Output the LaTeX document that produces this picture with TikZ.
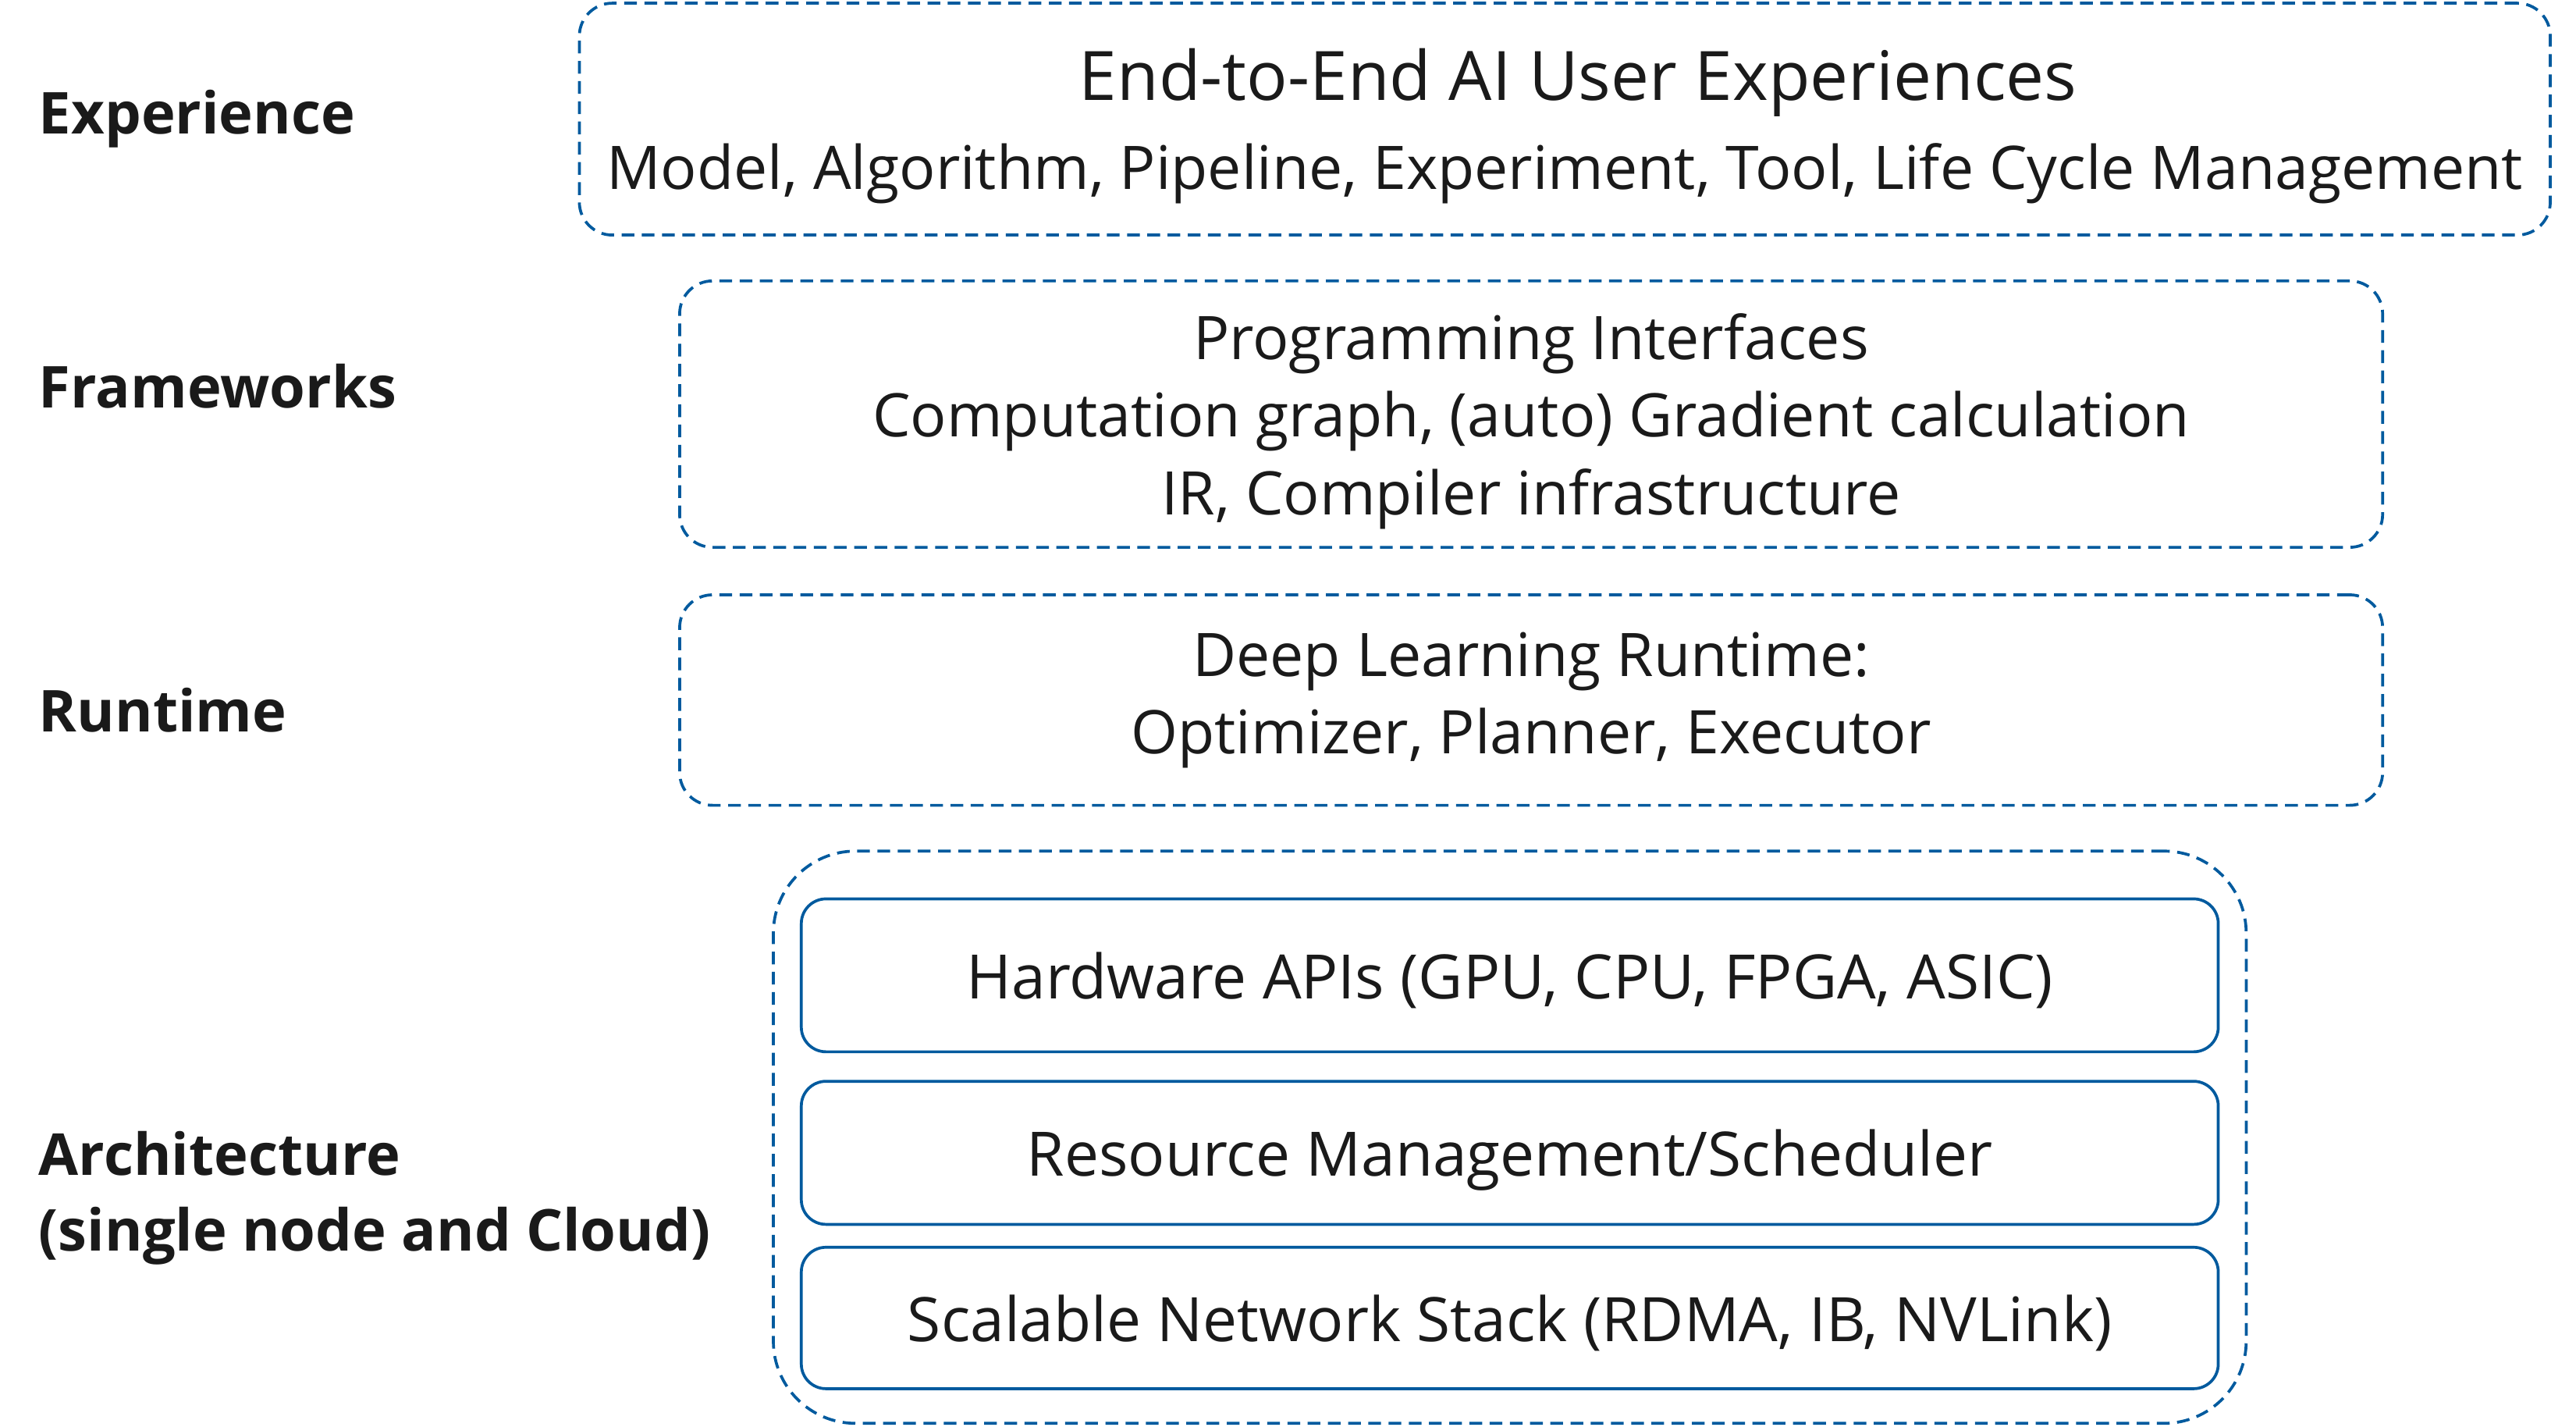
\documentclass[tikz,border=0pt]{standalone}
\usepackage{fontspec}
\setmainfont{Open Sans}
\usepackage{tikz}
\definecolor{layerblue}{RGB}{0,90,158}
\definecolor{ink}{RGB}{26,26,26}

\begin{document}
\begin{tikzpicture}[
    x=0.01cm,y=-0.01cm,
    layer/.style={draw=layerblue, line width=0.5pt, dash pattern=on 2.2pt off 1.3pt,
      rounded corners=0.2cm, inner sep=0pt, text depth=0pt, align=center, text=ink,
      font=\fontsize{10.4}{13.4}\selectfont},
    part/.style={draw=layerblue, line width=0.5pt, rounded corners=0.15cm, inner sep=0pt,
      text depth=0pt, minimum width=8.62cm, align=center, text=ink,
      font=\fontsize{10.6}{13.4}\selectfont},
    tag/.style={anchor=west, align=left, inner sep=0pt, text depth=0pt, text=ink,
      font=\fontsize{10}{13.1}\selectfont\bfseries}
    ]
    \useasboundingbox (0,0) rectangle (1568,868);
    % layer labels
    \node[tag] (texp) at (23,68) {Experience};
    \node[tag] (tfw) at (23,235) {Frameworks};
    \node[tag] (trt) at (23,432) {Runtime};
    \node[tag] (tarch) at (23,725) {Architecture\\(single node and Cloud)};
    % layers
    \node[layer, minimum width=11.99cm, minimum height=1.41cm] (exp) at (952.5,72.5)
      {\hspace*{0.16cm}{\fontsize{11.8}{14}\selectfont End-to-End AI User Experiences}\\[2pt]
       Model, Algorithm, Pipeline, Experiment, Tool, Life Cycle Management};
    \node[layer, minimum width=10.36cm, minimum height=1.62cm] (fw) at (932,252)
      {Programming Interfaces\\Computation graph, (auto) Gradient calculation\\IR, Compiler infrastructure};
    \node[layer, text depth=, minimum width=10.36cm, minimum height=1.28cm] (rt) at (932,426)
      {Deep Learning Runtime:\\Optimizer, Planner, Executor};
    \node[layer, rounded corners=0.5cm, minimum width=8.96cm, minimum height=3.48cm] (arch) at (919,692) {};
    \node[part, minimum height=0.93cm] (hw) at (919,593.5) {Hardware APIs (GPU, CPU, FPGA, ASIC)};
    \node[part, minimum height=0.87cm] (res) at (919,701.5) {Resource Management/Scheduler};
    \node[part, minimum height=0.86cm] (net) at (919,802) {Scalable Network Stack (RDMA, IB, NVLink)};
\end{tikzpicture}
\end{document}
